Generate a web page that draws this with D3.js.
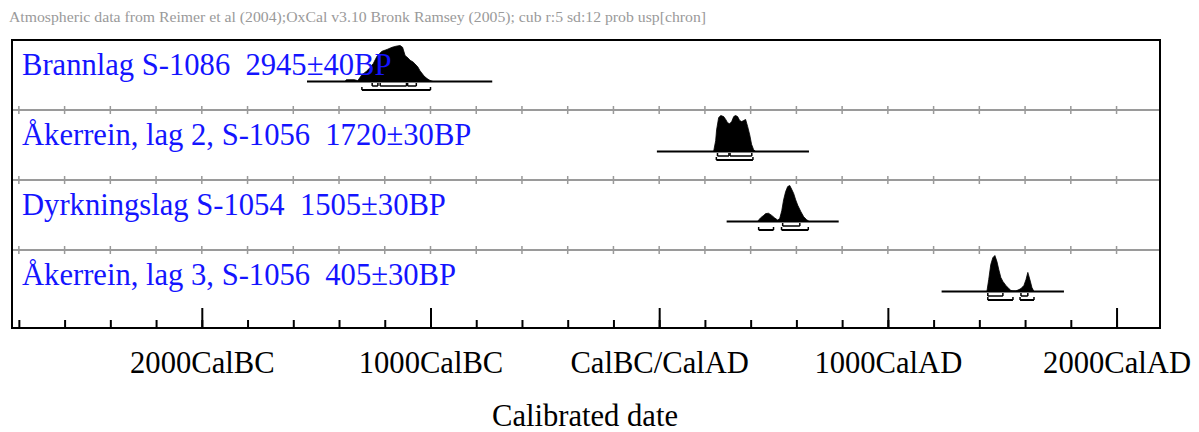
<!DOCTYPE html>
<html>
<head>
<meta charset="utf-8">
<script src="https://cdn.jsdelivr.net/npm/d3@7"></script>
<style>
  html, body { margin: 0; padding: 0; background: #fff; }
  svg { display: block; }
  text { font-family: "Liberation Serif", "Times New Roman", serif; }
</style>
</head>
<body>
<div id="chart"></div>
<script>
// ---------------- data ----------------
const headerText = "Atmospheric data from Reimer et al (2004);OxCal v3.10 Bronk Ramsey (2005); cub r:5 sd:12 prob usp[chron]";
const sampleLabels = [
  "Brannlag S-1086  2945\u00b140BP",
  "\u00c5kerrein, lag 2, S-1056  1720\u00b130BP",
  "Dyrkningslag S-1054  1505\u00b130BP",
  "\u00c5kerrein, lag 3, S-1056  405\u00b130BP"
];
const xTitle = "Calibrated date";
const axisDomain = [-2830, 2190];           // calendar years (negative = BC)
const tickYears = d3.range(-2800, 2200, 200);
const majorTickYears = [-2000, -1000, 0, 1000, 2000];
const majorTickLabels = ["2000CalBC", "1000CalBC", "CalBC/CalAD", "1000CalAD", "2000CalAD"];

// extent of the baseline drawn under each distribution
const plotRanges = [[-1540, -730], [-10, 655], [295, 785], [1235, 1770]];

// calibrated probability distributions: [year, relative probability]
const dist1 = [[-1374,0],[-1368,0.05],[-1332,0.05],[-1318,0.02],[-1300,0.19],[-1282,0.27],[-1265,0.38],
  [-1250,0.5],[-1234,0.7],[-1222,0.78],[-1212,0.84],[-1190,0.89],[-1168,0.95],[-1151,0.98],[-1133,1.0],
  [-1122,0.95],[-1111,0.72],[-1098,0.65],[-1089,0.59],[-1076,0.54],[-1068,0.49],[-1055,0.40],[-1046,0.30],
  [-1028,0.15],[-1015,0.08],[-1002,0.03],[-989,0]];
const dist2 = [[238,0],[247,0.3],[251,0.6],[260,0.94],[269,1.0],[282,0.97],[291,0.89],[299,0.80],[308,0.77],
  [317,0.83],[326,0.97],[334,1.0],[343,0.97],[352,0.86],[361,0.83],[369,0.86],[378,0.89],[387,0.69],
  [396,0.46],[404,0.2],[413,0.05],[422,0]];
const dist3 = [[430,0],[443,0.1],[455,0.16],[466,0.22],[478,0.23],[492,0.17],[505,0.1],[518,0.04],[527,0.08],
  [536,0.3],[544,0.6],[553,0.83],[562,0.97],[571,1.0],[579,0.9],[588,0.78],[597,0.6],[606,0.45],[619,0.28],
  [632,0.13],[645,0.05],[656,0]];
const dist4 = [[1433,0],[1441,0.33],[1450,0.75],[1459,0.94],[1468,1.0],[1477,0.83],[1485,0.61],[1494,0.39],
  [1503,0.28],[1516,0.17],[1529,0.08],[1538,0.03],[1547,0.02],[1560,0.02],[1569,0.04],[1582,0.08],
  [1595,0.17],[1604,0.33],[1612,0.53],[1621,0.33],[1630,0.11],[1639,0]];
const distributions = [dist1, dist2, dist3, dist4];

// highest probability ranges (68.2% and 95.4%)
const ranges68 = [
  [[-1255,-1230],[-1220,-1105],[-1100,-1062]],
  [[255,305],[310,405]],
  [[540,615]],
  [[1437,1503],[1582,1612]]
];
const ranges95 = [
  [[-1300,-1000]],
  [[250,410]],
  [[435,500],[535,652]],
  [[1437,1547],[1578,1639]]
];

// ---------------- layout ----------------
const W = 1199, H = 432;
const frame = {left: 12, right: 1160, top: 40, bottom: 328};
const labelSize = 30.6;

const svg = d3.select("#chart").append("svg").attr("width", W).attr("height", H);

const x = d3.scaleLinear().domain(axisDomain).range([frame.left, frame.right]);
const rowBand = d3.scaleBand().domain(d3.range(sampleLabels.length)).range([frame.top, 320]).paddingInner(0);
const h = d3.scaleLinear().domain([0, 1]).range([0, 36]);
const baseOffset = 41.5;

// header
svg.append("text")
  .attr("x", 9).attr("y", 22)
  .attr("font-size", 14)
  .attr("fill", "#9a9a9a")
  .attr("textLength", 697).attr("lengthAdjust", "spacingAndGlyphs")
  .text(headerText);

// row separators (gray) with ticks
const rowsG = svg.append("g");
d3.range(1, sampleLabels.length).forEach(i => {
  const y = rowBand(i);
  rowsG.append("line")
    .attr("x1", frame.left).attr("x2", frame.right).attr("y1", y).attr("y2", y)
    .attr("stroke", "#9a9a9a").attr("stroke-width", 2);
  rowsG.selectAll(null).data(tickYears).enter().append("line")
    .attr("x1", d => x(d)).attr("x2", d => x(d))
    .attr("y1", y - 4).attr("y2", y + 4)
    .attr("stroke", "#9a9a9a").attr("stroke-width", 1.5);
});

// distributions
const area = d3.area()
  .x(d => x(d[0]))
  .curve(d3.curveLinear);

distributions.forEach((dist, i) => {
  const base = rowBand(i) + baseOffset;
  const g = svg.append("g");
  // baseline
  g.append("line")
    .attr("x1", x(plotRanges[i][0])).attr("x2", x(plotRanges[i][1]))
    .attr("y1", base).attr("y2", base)
    .attr("stroke", "#000").attr("stroke-width", 2);
  g.append("path")
    .datum(dist)
    .attr("d", area.y0(base).y1(d => base - h(d[1])))
    .attr("fill", "#000").attr("stroke", "#000").attr("stroke-width", 0.8);

  const drawRanges = (ranges, dy, sw) => {
    ranges.forEach(r => {
      g.append("line")
        .attr("x1", x(r[0])).attr("x2", x(r[1]))
        .attr("y1", base + dy).attr("y2", base + dy)
        .attr("stroke", "#000").attr("stroke-width", sw);
      r.forEach(v => {
        g.append("line")
          .attr("x1", x(v)).attr("x2", x(v))
          .attr("y1", base + dy).attr("y2", base + dy - 3)
          .attr("stroke", "#000").attr("stroke-width", 1.5);
      });
    });
  };
  drawRanges(ranges68[i], 4.5, 1.5);
  drawRanges(ranges95[i], 8.5, 2);
});

// row labels
svg.append("g").selectAll("text").data(sampleLabels).enter().append("text")
  .attr("x", 22)
  .attr("y", (d, i) => rowBand(i) + 35)
  .attr("font-size", labelSize)
  .attr("fill", "#1414ff")
  .style("white-space", "pre")
  .attr("xml:space", "preserve")
  .text(d => d);

// bottom axis: minor ticks
const minorAxis = d3.axisBottom(x).tickValues(tickYears).tickSizeInner(-8).tickSizeOuter(0).tickFormat("");
const gMinor = svg.append("g").attr("transform", `translate(0,${frame.bottom})`).call(minorAxis);
gMinor.select(".domain").remove();
gMinor.selectAll(".tick line").attr("stroke", "#000").attr("stroke-width", 2);

// bottom axis: major ticks + labels
const majorAxis = d3.axisBottom(x).tickValues(majorTickYears).tickSizeInner(-20).tickSizeOuter(0)
  .tickPadding(23.5)
  .tickFormat((d, i) => majorTickLabels[i]);
const gMajor = svg.append("g").attr("transform", `translate(0,${frame.bottom})`).call(majorAxis);
gMajor.select(".domain").remove();
gMajor.selectAll(".tick line").attr("stroke", "#000").attr("stroke-width", 2);
gMajor.selectAll(".tick text")
  .attr("font-family", "'Liberation Serif', 'Times New Roman', serif")
  .attr("font-size", labelSize).attr("fill", "#000");

// frame
svg.append("rect")
  .attr("x", frame.left).attr("y", frame.top)
  .attr("width", frame.right - frame.left).attr("height", frame.bottom - frame.top)
  .attr("fill", "none").attr("stroke", "#000").attr("stroke-width", 2);

// x title
svg.append("text")
  .attr("x", 585).attr("y", 426)
  .attr("text-anchor", "middle")
  .attr("font-size", labelSize).attr("fill", "#000")
  .text(xTitle);
</script>
</body>
</html>
